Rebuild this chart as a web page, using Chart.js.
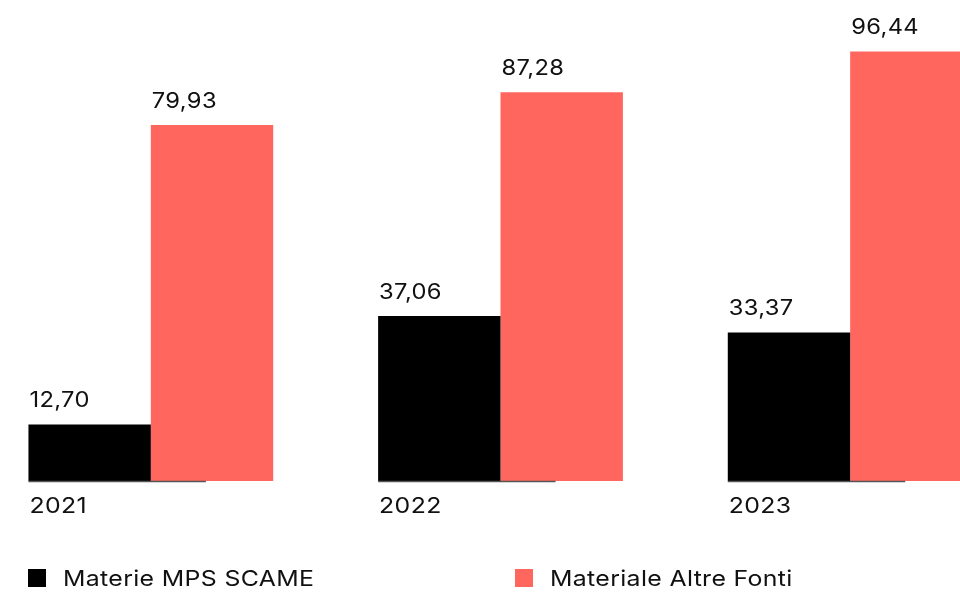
<!DOCTYPE html>
<html>
<head>
<meta charset="utf-8">
<script src="https://cdn.jsdelivr.net/npm/chart.js@4.4.1/dist/chart.umd.min.js"></script>
<style>
  html, body { margin: 0; padding: 0; background: #ffffff; overflow: hidden; }
  #wrap { position: absolute; left: -24px; top: 0; width: 1049px; height: 593px; }
</style>
</head>
<body>
<div id="wrap"><canvas id="chart"></canvas></div>
<script>
// Categories and series
const years = ['2021', '2022', '2023'];
const seriesNames = ['Materie MPS SCAME', 'Materiale Altre Fonti'];
const mpsScame = [12.70, 37.06, 33.37];
const altreFonti = [79.93, 87.28, 96.44];

const colors = ['#000000', '#FF665E'];
const FONT = 'Inter, "Noto Sans", Arial, sans-serif';
const TEXT_STRETCH = 1.13;   // wide-set lettering

const fmt = v => v.toFixed(2).replace('.', ',');

function wideText(ctx, text, x, y) {
  ctx.save();
  ctx.translate(x, y);
  ctx.scale(TEXT_STRETCH, 1);
  if ('letterSpacing' in ctx) ctx.letterSpacing = '0.3px';
  ctx.fillText(text, 0, 0);
  ctx.restore();
}

// Year labels, value labels, short baseline under each group and the legend
const annotate = {
  id: 'annotate',
  afterDatasetsDraw(chart) {
    const ctx = chart.ctx;
    const area = chart.chartArea;
    const first = chart.getDatasetMeta(0).data;
    ctx.save();

    // baseline segment under each group
    ctx.strokeStyle = '#555555';
    ctx.lineWidth = 1.5;
    first.forEach(bar => {
      const left = bar.x - bar.width / 2;
      ctx.beginPath();
      ctx.moveTo(left, area.bottom + 0.5);
      ctx.lineTo(left + bar.width * 1.45, area.bottom + 0.5);
      ctx.stroke();
    });

    // value labels above each bar
    ctx.fillStyle = '#111111';
    ctx.font = '21px ' + FONT;
    ctx.textAlign = 'left';
    ctx.textBaseline = 'alphabetic';
    chart.data.datasets.forEach((ds, di) => {
      chart.getDatasetMeta(di).data.forEach((bar, i) => {
        wideText(ctx, fmt(ds.data[i]), bar.x - bar.width / 2 + 1, bar.y - 17);
      });
    });

    // year labels under the groups
    ctx.font = '22px ' + FONT;
    ctx.textBaseline = 'top';
    first.forEach((bar, i) => {
      wideText(ctx, chart.data.labels[i], bar.x - bar.width / 2 + 1, area.bottom + 14);
    });

    // legend
    const legendX = [52, 539];
    const legendY = 578;
    ctx.font = '22px ' + FONT;
    ctx.textBaseline = 'middle';
    chart.data.datasets.forEach((ds, di) => {
      ctx.fillStyle = ds.backgroundColor;
      ctx.fillRect(legendX[di], legendY - 9, 18, 18);
      ctx.fillStyle = '#111111';
      wideText(ctx, ds.label, legendX[di] + 35, legendY + 1);
    });
    ctx.restore();
  }
};

new Chart(document.getElementById('chart'), {
  type: 'bar',
  data: {
    labels: years,
    datasets: [
      { label: seriesNames[0], data: mpsScame, backgroundColor: colors[0] },
      { label: seriesNames[1], data: altreFonti, backgroundColor: colors[1] }
    ]
  },
  options: {
    responsive: true,
    maintainAspectRatio: false,
    animation: false,
    layout: { padding: { top: 0, bottom: 112, left: 0, right: 0 } },
    datasets: { bar: { categoryPercentage: 0.7, barPercentage: 1.0, borderWidth: 0 } },
    scales: {
      x: { display: false, offset: true },
      y: { display: false, min: 0, max: 108 }
    },
    plugins: {
      legend: { display: false },
      tooltip: { enabled: false }
    }
  },
  plugins: [annotate]
});
</script>
</body>
</html>
